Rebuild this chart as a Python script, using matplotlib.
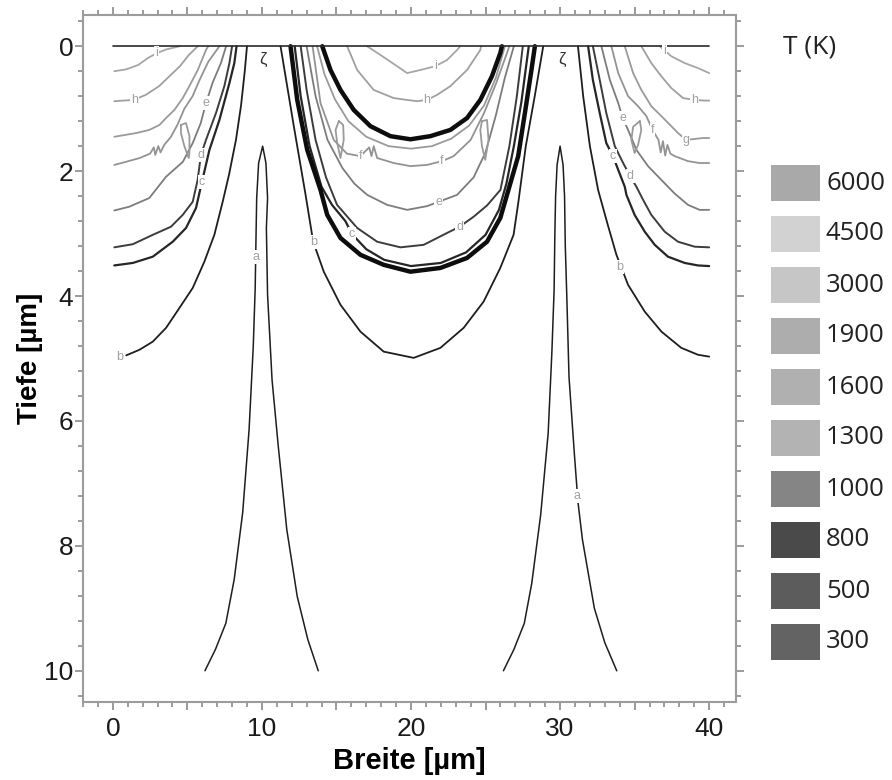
import matplotlib
matplotlib.use("Agg")
import matplotlib.pyplot as plt
from matplotlib.patches import Rectangle
from matplotlib.ticker import MultipleLocator, FuncFormatter


# Temperature legend
legend_levels = ["6000", "4500", "3000", "1900", "1600", "1300", "1000", "800", "500", "300"]
legend_grays = ["#a9a9a9", "#d2d2d2", "#c6c6c6", "#adadad", "#b0b0b0",
                "#b3b3b3", "#858585", "#4a4a4a", "#5c5c5c", "#636363"]

# Surface line (depth 0)
surface = [(0, 0), (40, 0)]

# Left region contours (x, depth) in um
i_left = [(0.1, 0.40), (0.9, 0.37), (1.7, 0.30), (2.35, 0.19), (2.95, 0.11), (3.6, 0.05), (4.5, 0.0)]
h_left = [(0.1, 0.88), (1.4, 0.86), (2.2, 0.78), (3.1, 0.64), (3.8, 0.48), (4.5, 0.32), (5.1, 0.14), (5.7, 0.0)]
g_left = [(0.1, 1.45), (1.57, 1.39), (2.45, 1.34), (3.13, 1.26), (3.57, 1.15), (4.13, 1.02),
          (4.69, 0.83), (5.13, 0.64), (5.7, 0.38), (6.25, 0.06), (6.4, 0.0)]
f_left = [(0.1, 1.90), (0.9, 1.85), (1.8, 1.79), (2.5, 1.72), (2.75, 1.62), (2.85, 1.74), (3.05, 1.6),
          (3.2, 1.7), (3.45, 1.58), (3.9, 1.45), (4.35, 1.25), (4.8, 1.0), (5.35, 0.8), (5.8, 0.55),
          (6.4, 0.25), (7.15, 0.0)]
e_left = [(0.1, 2.63), (1.1, 2.57), (2.45, 2.43), (3.57, 2.09), (4.7, 1.85), (5.36, 1.55), (5.9, 1.23),
          (6.25, 0.91), (6.7, 0.58), (7.25, 0.27), (7.6, 0.0)]
d_left = [(0.1, 3.22), (1.34, 3.17), (2.68, 3.02), (3.9, 2.89), (4.69, 2.70), (5.36, 2.49), (5.69, 2.14),
          (5.91, 1.74), (6.25, 1.50), (6.92, 1.07), (7.48, 0.64), (7.82, 0.27), (8.0, 0.0)]
c_left = [(0.1, 3.51), (1.34, 3.47), (2.68, 3.37), (4.02, 3.13), (4.91, 2.91), (5.58, 2.59), (5.98, 2.17),
          (6.48, 1.66), (7.15, 1.18), (7.82, 0.59), (8.15, 0.27), (8.3, 0.0)]
b_left = [(0.9, 4.95), (1.79, 4.86), (2.68, 4.73), (3.57, 4.51), (4.47, 4.19), (5.36, 3.87), (6.14, 3.45),
          (6.81, 3.02), (7.37, 2.49), (7.8, 2.05), (8.26, 1.5), (8.6, 0.95), (8.85, 0.4), (9.0, 0.0)]

# Narrow spikes (level a)
a_left = [(6.18, 10.0), (6.88, 9.66), (7.58, 9.24), (8.14, 8.54), (8.71, 7.47), (9.14, 6.14), (9.42, 4.81),
          (9.55, 3.87), (9.6, 3.13), (9.65, 2.43), (9.78, 1.87), (10.05, 1.60), (10.27, 1.87), (10.38, 2.43),
          (10.3, 2.91), (10.38, 3.98), (10.68, 5.34), (11.1, 6.41), (11.67, 7.74), (12.37, 8.81),
          (13.08, 9.5), (13.78, 10.0)]
a_right = [(26.2, 10.0), (26.9, 9.66), (27.6, 9.24), (28.1, 8.6), (28.7, 7.5), (29.2, 6.2), (29.45, 4.9),
           (29.6, 3.9), (29.65, 3.0), (29.7, 2.4), (29.8, 1.9), (30.0, 1.6), (30.2, 1.9), (30.3, 2.4),
           (30.35, 3.2), (30.45, 4.0), (30.6, 5.3), (30.95, 6.5), (31.2, 7.3), (31.5, 7.9), (32.3, 9.0),
           (33.0, 9.55), (33.8, 10.0)]

# Central melt pool region
b_center = [(11.25, 0.0), (12.14, 1.28), (12.93, 2.38), (13.44, 3.13), (14.15, 3.61), (15.27, 4.14),
            (16.61, 4.57), (18.17, 4.89), (20.18, 4.99), (21.97, 4.83), (23.53, 4.51), (24.87, 4.09),
            (25.99, 3.55), (26.88, 3.02), (27.2, 2.5), (27.7, 1.6), (28.3, 0.8), (28.87, 0.0)]
thick_outer = [(11.92, 0.0), (12.37, 0.86), (13.04, 1.66), (13.93, 2.30), (14.38, 2.70), (15.27, 3.07),
               (16.61, 3.34), (18.17, 3.50), (19.96, 3.61), (21.97, 3.55), (23.76, 3.39), (25.1, 3.13),
               (25.99, 2.75), (26.44, 2.38), (27.19, 1.76), (27.64, 1.07), (28.08, 0.38), (28.31, 0.0)]
c_center = [(12.2, 0.0), (12.6, 0.8), (13.2, 1.6), (14.0, 2.25), (14.7, 2.54), (15.6, 2.8), (16.05, 3.01),
            (17.0, 3.25), (18.2, 3.42), (20.0, 3.52), (22.0, 3.47), (23.7, 3.3), (25.0, 3.02),
            (25.9, 2.62), (26.4, 2.2), (26.9, 1.6), (27.4, 0.9), (27.9, 0.0)]
d_center = [(12.6, 0.0), (13.0, 0.7), (13.6, 1.5), (14.3, 2.1), (15.04, 2.54), (16.39, 2.91),
            (17.73, 3.13), (19.29, 3.22), (20.85, 3.18), (22.42, 2.99), (23.26, 2.89), (24.2, 2.73),
            (25.1, 2.55), (26.0, 2.3), (26.6, 1.6), (27.1, 0.8), (27.5, 0.0)]
e_center = [(13.0, 0.0), (13.6, 0.8), (14.4, 1.5), (15.4, 1.95), (16.2, 2.2), (17.06, 2.38), (18.4, 2.54),
            (19.74, 2.62), (21.08, 2.56), (21.86, 2.49), (23.09, 2.38), (24.2, 2.1), (25.0, 1.7),
            (25.7, 1.1), (26.3, 0.5), (26.9, 0.0)]
f_center = [(13.4, 0.0), (13.93, 0.91), (14.82, 1.5), (15.7, 1.72), (16.6, 1.76), (17.2, 1.62),
            (17.35, 1.76), (17.5, 1.6), (17.73, 1.79), (18.84, 1.87), (19.96, 1.92), (21.08, 1.9),
            (22.08, 1.84), (22.86, 1.76), (24.0, 1.5), (24.9, 1.07), (25.7, 0.6), (26.6, 0.0)]
g_center = [(13.7, 0.0), (14.2, 0.45), (14.9, 0.85), (15.8, 1.2), (17.0, 1.45), (18.5, 1.6), (20.0, 1.64),
            (21.4, 1.6), (22.7, 1.48), (23.9, 1.27), (24.9, 0.95), (25.7, 0.5), (26.3, 0.0)]
thick_inner = [(14.05, 0.0), (14.6, 0.38), (15.27, 0.70), (16.16, 1.02), (17.28, 1.28), (18.62, 1.44),
               (19.96, 1.49), (21.3, 1.44), (22.64, 1.34), (23.76, 1.15), (24.65, 0.86), (25.43, 0.48),
               (25.99, 0.11), (26.1, 0.0)]
h_center = [(15.72, 0.0), (16.39, 0.38), (17.5, 0.70), (18.84, 0.83), (19.74, 0.86), (20.41, 0.88),
            (21.07, 0.86), (21.74, 0.78), (22.64, 0.64), (23.76, 0.38), (24.65, 0.06), (24.7, 0.0)]
i_center = [(17.06, 0.0), (17.95, 0.14), (19.07, 0.32), (19.74, 0.43), (20.63, 0.38), (21.63, 0.32),
            (22.42, 0.22), (23.09, 0.06), (23.3, 0.0)]

# Right region contours
b_right = [(31.2, 0.0), (31.55, 0.8), (32.0, 1.6), (32.55, 2.3), (33.2, 2.86), (33.78, 3.34), (34.56, 3.82),
           (35.68, 4.25), (36.8, 4.57), (38.13, 4.83), (39.25, 4.94), (40.0, 4.97)]
c_right = [(31.88, 0.0), (32.2, 0.54), (32.66, 1.07), (33.1, 1.55), (33.55, 1.76), (33.9, 1.98),
           (34.34, 2.25), (34.45, 2.38), (35.0, 2.7), (35.68, 2.97), (36.35, 3.18), (37.24, 3.37),
           (38.36, 3.47), (39.25, 3.51), (40.0, 3.52)]
d_right = [(32.2, 0.0), (32.66, 0.54), (33.1, 1.07), (33.67, 1.6), (34.23, 1.87), (34.7, 2.08),
           (35.12, 2.25), (35.57, 2.46), (36.12, 2.7), (37.02, 2.97), (37.91, 3.13), (39.03, 3.21), (40.0, 3.22)]
e_right = [(32.77, 0.0), (33.34, 0.54), (33.9, 0.91), (34.2, 1.15), (34.56, 1.34), (35.12, 1.66),
           (35.9, 1.92), (36.79, 2.14), (37.69, 2.36), (38.58, 2.54), (39.36, 2.62), (40.0, 2.62)]
f_right = [(33.44, 0.0), (33.9, 0.43), (34.56, 0.8), (35.23, 0.96), (35.79, 1.12), (36.2, 1.34),
           (36.6, 1.5), (36.75, 1.7), (36.9, 1.52), (37.05, 1.75), (37.2, 1.58), (37.4, 1.72),
           (37.69, 1.76), (38.58, 1.84), (39.36, 1.87), (40.0, 1.87)]
g_right = [(34.34, 0.0), (34.9, 0.43), (35.45, 0.7), (36.12, 0.96), (36.8, 1.12), (37.46, 1.28),
           (37.91, 1.39), (38.45, 1.5), (39.58, 1.47), (40.0, 1.47)]
h_right = [(35.45, 0.0), (36.12, 0.27), (36.79, 0.48), (37.46, 0.67), (38.25, 0.83), (39.0, 0.86),
           (39.7, 0.87), (40.0, 0.87)]
i_right = [(36.68, 0.0), (37.46, 0.16), (38.36, 0.27), (39.25, 0.35), (40.0, 0.43)]

# Small closed loops
loop_1 = [(4.57, 1.26), (4.91, 1.23), (5.14, 1.44), (5.14, 1.71), (5.09, 1.79), (4.8, 1.6), (4.57, 1.39), (4.57, 1.26)]
loop_2 = [(15.16, 1.2), (15.45, 1.26), (15.49, 1.5), (15.27, 1.79), (15.05, 1.55), (14.94, 1.34), (15.16, 1.2)]
loop_3 = [(24.76, 1.2), (25.1, 1.18), (25.2, 1.5), (24.98, 1.82), (24.76, 1.6), (24.65, 1.34), (24.76, 1.2)]
loop_4 = [(35.35, 1.2), (35.45, 1.34), (35.23, 1.58), (35.0, 1.71), (34.78, 1.5), (34.9, 1.29), (35.35, 1.2)]

# Contour labels (letter, x, depth)
labels = [("i", 2.95, 0.11), ("h", 1.45, 0.86), ("e", 6.25, 0.91), ("d", 5.91, 1.74), ("c", 5.98, 2.17),
          ("b", 0.45, 4.97), ("a", 9.62, 3.37),
          ("b", 13.44, 3.13), ("c", 16.05, 3.01), ("d", 23.26, 2.89), ("e", 21.86, 2.49),
          ("f", 16.6, 1.76), ("f", 22.08, 1.84), ("h", 21.07, 0.86), ("i", 21.63, 0.32),
          ("i", 37.0, 0.08), ("h", 39.0, 0.86), ("g", 38.45, 1.5), ("f", 36.2, 1.34), ("e", 34.2, 1.15),
          ("c", 33.55, 1.76), ("d", 34.7, 2.08), ("b", 34.0, 3.53), ("a", 31.15, 7.2)]

contours = [
    ("a", a_left), ("a", a_right),
    ("b", b_left), ("b", b_center), ("b", b_right),
    ("c", c_left), ("c", c_center), ("c", c_right),
    ("d", d_left), ("d", d_center), ("d", d_right),
    ("e", e_left), ("e", e_center), ("e", e_right),
    ("f", f_left), ("f", f_center), ("f", f_right),
    ("g", g_left), ("g", g_center), ("g", g_right),
    ("h", h_left), ("h", h_center), ("h", h_right),
    ("i", i_left), ("i", i_center), ("i", i_right),
    ("loop", loop_1), ("loop", loop_2), ("loop", loop_3), ("loop", loop_4),
    ("thick", thick_outer), ("thick", thick_inner),
    ("surf", surface),
]

styles = {
    "a": ("#1e1e1e", 1.1), "b": ("#1e1e1e", 1.3), "c": ("#262626", 1.6), "d": ("#3c3c3c", 1.4),
    "e": ("#7c7c7c", 1.3), "f": ("#939393", 1.3), "g": ("#9a9a9a", 1.3), "h": ("#a0a0a0", 1.3),
    "i": ("#a6a6a6", 1.3), "loop": ("#9a9a9a", 1.3), "thick": ("#0d0d0d", 3.2), "surf": ("#2a2a2a", 1.2),
}

FS = 19
plt.rcParams["font.family"] = ["Liberation Sans", "DejaVu Sans"]

fig = plt.figure(figsize=(8.92, 7.8), dpi=100)
ax = fig.add_axes([83 / 892, 1 - 702 / 780, (736 - 83) / 892, (702 - 15) / 780])

for lev, pts in contours:
    col, lw = styles[lev]
    xs = [p[0] for p in pts]
    ys = [p[1] for p in pts]
    ax.plot(xs, ys, color=col, lw=lw, solid_capstyle="round", solid_joinstyle="round", zorder=2)

for s, x, y in labels:
    ax.text(x, y, s, fontsize=9, color="#a0a0a0", ha="center", va="center", zorder=3,
            bbox=dict(fc="white", ec="none", pad=0.6))

# little marks at the top near the spikes
for xm in [10.05, 30.1]:
    ax.text(xm, 0.22, "\u03b6", fontsize=12, color="#303030", ha="center", va="center", zorder=3)

ax.set_xlim(-2, 41.8)
ax.set_ylim(10.5, -0.5)
ax.xaxis.set_major_locator(MultipleLocator(5))
ax.xaxis.set_minor_locator(MultipleLocator(1))
ax.xaxis.set_major_formatter(FuncFormatter(lambda v, p: f"{v:.0f}" if round(v) % 10 == 0 else ""))
ax.yaxis.set_major_locator(MultipleLocator(2))
ax.yaxis.set_minor_locator(MultipleLocator(0.4))
ax.tick_params(which="both", direction="out", top=True, right=True, colors="#8a8a8a",
               labelcolor="#1a1a1a", labelsize=FS, width=1.2)
ax.tick_params(which="major", length=6)
ax.tick_params(which="minor", length=3.5)
ax.tick_params(axis="x", which="major", pad=5)
ax.tick_params(axis="y", which="major", pad=1)
for sp in ax.spines.values():
    sp.set_color("#9c9c9c")
    sp.set_linewidth(1.5)

ax.set_xlabel("Breite [µm]", fontsize=21, fontweight="bold")
ax.set_ylabel("Tiefe [µm]", fontsize=20, fontweight="bold")
ax.xaxis.set_label_coords(0.5, -0.065)
ax.yaxis.set_label_coords(-0.062, 0.5)

# legend drawn in figure pixel space
lax = fig.add_axes([0, 0, 1, 1], zorder=-1)
lax.set_xlim(0, 892)
lax.set_ylim(780, 0)
lax.axis("off")
lax.text(783, 47, "T (K)", fontsize=19, family=["Open Sans", "DejaVu Sans"], va="center", ha="left", color="#222222")
for k, (lab, col) in enumerate(zip(legend_levels, legend_grays)):
    yc = 183 + 51.0 * k
    lax.add_patch(Rectangle((771, yc - 18), 49, 36, fc=col, ec="none"))
    lax.text(826, yc, lab, fontsize=18.5, family=["Open Sans", "DejaVu Sans"], va="center", ha="left",
             color="#222222")

fig.savefig("out.png", dpi=100)
